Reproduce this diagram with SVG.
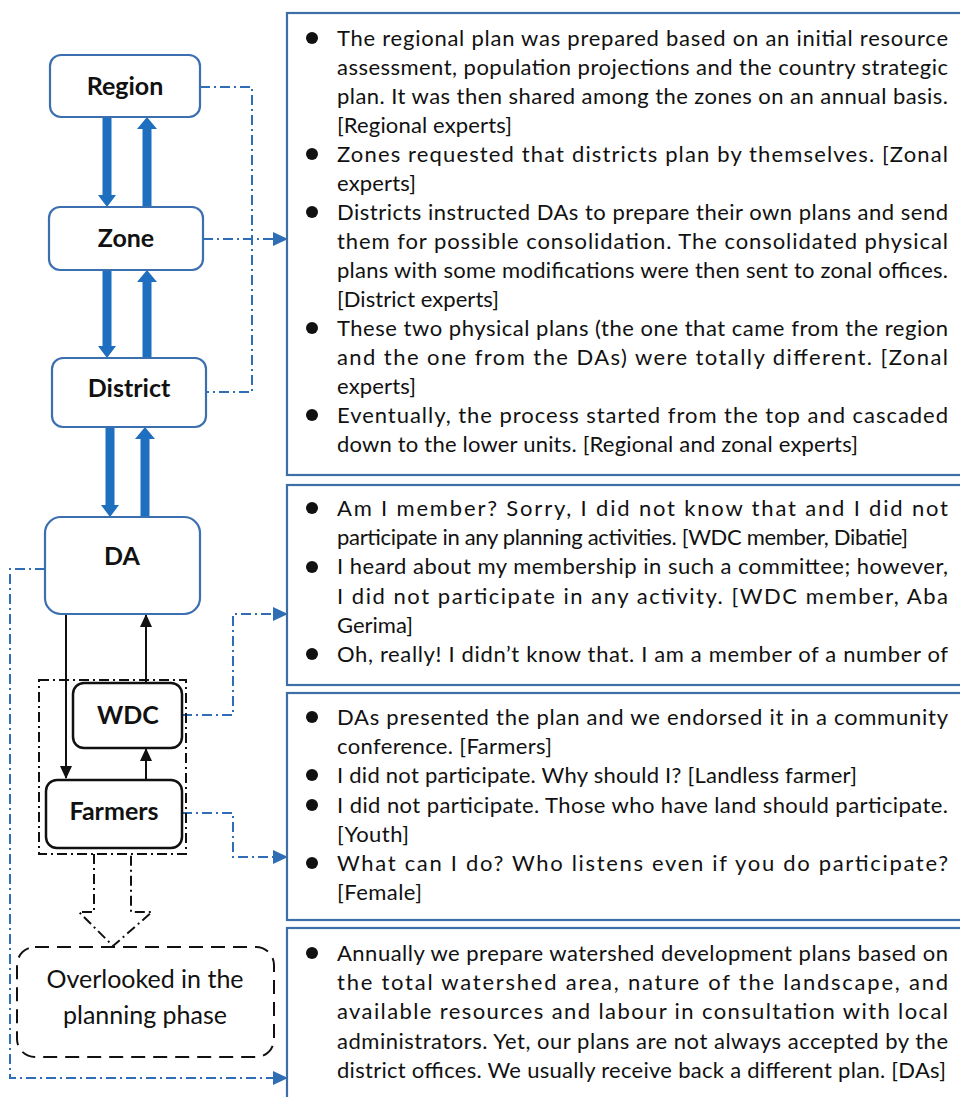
<svg xmlns="http://www.w3.org/2000/svg" width="960" height="1097" viewBox="0 0 960 1097">
<style>
.t{font-family:Lato,"Liberation Sans",sans-serif;font-size:22px;fill:#111}
.lbl{font-family:Lato,"Liberation Sans",sans-serif;font-size:25px;font-weight:bold;fill:#111;text-anchor:middle}
.ov{font-family:Lato,"Liberation Sans",sans-serif;font-size:25px;fill:#111;text-anchor:middle}
.bnode{fill:#fff;stroke:#3b6fb0;stroke-width:2.2}
.knode{fill:#fff;stroke:#111;stroke-width:2.5}
.tbox{fill:#fff;stroke:#3d6ea8;stroke-width:2.2}
.dd{fill:none;stroke:#2f6db5;stroke-width:2;stroke-dasharray:10 4 2 4}
.kd{fill:none;stroke:#111;stroke-width:2;stroke-dasharray:10 4 2 4}
.thin{fill:none;stroke:#111;stroke-width:2}
.thick{fill:#1f6fc1}
.bul{fill:#111}
</style>
<defs>
<marker id="ba" markerUnits="userSpaceOnUse" markerWidth="16" markerHeight="16" refX="14" refY="7" orient="auto"><path d="M0,0 L15,7 L0,14 Z" fill="#2f6db5"/></marker>
<marker id="ka" markerUnits="userSpaceOnUse" markerWidth="14" markerHeight="14" refX="12" refY="6" orient="auto"><path d="M0,0 L13,6 L0,12 Z" fill="#111"/></marker>
</defs>
<rect width="960" height="1097" fill="#fff"/>

<g id="connectors">
<polygon class="thick" points="102.5,117 111.5,117 111.5,195 116,195 107,207 98,195 102.5,195"/>
<polygon class="thick" points="142.5,207 151.5,207 151.5,129 157,129 147,117 137,129 142.5,129"/>
<polygon class="thick" points="102.5,270 111.5,270 111.5,346 116,346 107,358 98,346 102.5,346"/>
<polygon class="thick" points="142.5,358 151.5,358 151.5,282 157,282 147,270 137,282 142.5,282"/>
<polygon class="thick" points="105.5,427 114.5,427 114.5,505 119,505 110,517 101,505 105.5,505"/>
<polygon class="thick" points="140.5,517 149.5,517 149.5,439 155,439 145,427 135,439 140.5,439"/>
<path class="thin" d="M66,614 V778" marker-end="url(#ka)"/>
<path class="thin" d="M146,683 V615" marker-end="url(#ka)"/>
<path class="thin" d="M146,780 V749" marker-end="url(#ka)"/>
<path class="dd" d="M200,87 H252 V392 H206"/>
<path class="dd" d="M203,239 H287" marker-end="url(#ba)"/>
<path class="dd" d="M45,569 H10 V1078 H287" marker-end="url(#ba)"/>
<path class="dd" d="M182,715 H233 V614 H287" marker-end="url(#ba)"/>
<path class="dd" d="M182,813 H233 V857 H287" marker-end="url(#ba)"/>
<path class="kd" d="M94,854 V912 H79 L113,946 L152,912 H131 V854"/>
</g>

<g id="node-region"><rect class="bnode" x="50" y="55" width="150" height="62" rx="11"/><text class="lbl" x="125" y="95">Region</text></g>
<g id="node-zone"><rect class="bnode" x="49" y="207" width="154" height="63" rx="11"/><text class="lbl" x="126" y="247">Zone</text></g>
<g id="node-district"><rect class="bnode" x="52" y="358" width="154" height="69" rx="11"/><text class="lbl" x="129" y="397">District</text></g>
<g id="node-da"><rect class="bnode" x="45" y="517" width="155" height="97" rx="16"/><text class="lbl" x="122" y="565">DA</text></g>
<g id="node-group"><rect class="kd" x="39" y="680" width="147" height="174"/></g>
<g id="node-wdc"><rect class="knode" x="73" y="683" width="109" height="65" rx="11"/><text class="lbl" x="128" y="724">WDC</text></g>
<g id="node-farmers"><rect class="knode" x="46" y="780" width="136" height="68" rx="11"/><text class="lbl" x="114" y="820">Farmers</text></g>
<g id="node-overlooked"><rect x="17" y="947" width="257" height="110" rx="18" fill="#fff" stroke="#111" stroke-width="2" stroke-dasharray="14 8"/><text class="ov" x="145" y="988">Overlooked in the</text><text class="ov" x="145" y="1024">planning phase</text></g>

<g id="box-1">
<rect class="tbox" x="287" y="13" width="680" height="462"/>
<circle class="bul" cx="312" cy="38" r="6"/><circle class="bul" cx="312" cy="154" r="6"/><circle class="bul" cx="312" cy="212" r="6"/><circle class="bul" cx="312" cy="328" r="6"/><circle class="bul" cx="312" cy="415" r="6"/>
<text class="t" x="337" y="46" textLength="611" lengthAdjust="spacing">The regional plan was prepared based on an initial resource</text>
<text class="t" x="337" y="75" textLength="611" lengthAdjust="spacing">assessment, population projections and the country strategic</text>
<text class="t" x="337" y="104" textLength="611" lengthAdjust="spacing">plan. It was then shared among the zones on an annual basis.</text>
<text class="t" x="337" y="133" textLength="175" lengthAdjust="spacing">[Regional experts]</text>
<text class="t" x="337" y="162" textLength="611" lengthAdjust="spacing">Zones requested that districts plan by themselves. [Zonal</text>
<text class="t" x="337" y="191" textLength="79" lengthAdjust="spacing">experts]</text>
<text class="t" x="337" y="220" textLength="611" lengthAdjust="spacing">Districts instructed DAs to prepare their own plans and send</text>
<text class="t" x="337" y="249" textLength="611" lengthAdjust="spacing">them for possible consolidation. The consolidated physical</text>
<text class="t" x="337" y="278" textLength="611" lengthAdjust="spacing">plans with some modifications were then sent to zonal offices.</text>
<text class="t" x="337" y="307" textLength="162" lengthAdjust="spacing">[District experts]</text>
<text class="t" x="337" y="336" textLength="611" lengthAdjust="spacing">These two physical plans (the one that came from the region</text>
<text class="t" x="337" y="365" textLength="611" lengthAdjust="spacing">and the one from the DAs) were totally different. [Zonal</text>
<text class="t" x="337" y="394" textLength="79" lengthAdjust="spacing">experts]</text>
<text class="t" x="337" y="423" textLength="611" lengthAdjust="spacing">Eventually, the process started from the top and cascaded</text>
<text class="t" x="337" y="452" textLength="521" lengthAdjust="spacing">down to the lower units. [Regional and zonal experts]</text>
</g>

<g id="box-2">
<rect class="tbox" x="287" y="485" width="680" height="200"/>
<circle class="bul" cx="312" cy="508" r="6"/><circle class="bul" cx="312" cy="567" r="6"/><circle class="bul" cx="312" cy="654" r="6"/>
<text class="t" x="337" y="516" textLength="611" lengthAdjust="spacing">Am I member? Sorry, I did not know that and I did not</text>
<text class="t" x="337" y="545" textLength="571" lengthAdjust="spacing">participate in any planning activities. [WDC member, Dibatie]</text>
<text class="t" x="337" y="574" textLength="611" lengthAdjust="spacing">I heard about my membership in such a committee; however,</text>
<text class="t" x="337" y="604" textLength="611" lengthAdjust="spacing">I did not participate in any activity. [WDC member, Aba</text>
<text class="t" x="337" y="633" textLength="76" lengthAdjust="spacing">Gerima]</text>
<text class="t" x="337" y="662" textLength="611" lengthAdjust="spacing">Oh, really! I didn’t know that. I am a member of a number of</text>
</g>

<g id="box-3">
<rect class="tbox" x="287" y="693" width="680" height="227"/>
<circle class="bul" cx="312" cy="717" r="6"/><circle class="bul" cx="312" cy="775" r="6"/><circle class="bul" cx="312" cy="805" r="6"/><circle class="bul" cx="312" cy="863" r="6"/>
<text class="t" x="337" y="725" textLength="611" lengthAdjust="spacing">DAs presented the plan and we endorsed it in a community</text>
<text class="t" x="337" y="754" textLength="215" lengthAdjust="spacing">conference. [Farmers]</text>
<text class="t" x="337" y="783" textLength="520" lengthAdjust="spacing">I did not participate. Why should I? [Landless farmer]</text>
<text class="t" x="337" y="813" textLength="611" lengthAdjust="spacing">I did not participate. Those who have land should participate.</text>
<text class="t" x="337" y="842" textLength="72" lengthAdjust="spacing">[Youth]</text>
<text class="t" x="337" y="871" textLength="611" lengthAdjust="spacing">What can I do? Who listens even if you do participate?</text>
<text class="t" x="337" y="900" textLength="85" lengthAdjust="spacing">[Female]</text>
</g>

<g id="box-4">
<rect class="tbox" x="287" y="928" width="680" height="180"/>
<circle class="bul" cx="312" cy="953" r="6"/>
<text class="t" x="337" y="961" textLength="611" lengthAdjust="spacing">Annually we prepare watershed development plans based on</text>
<text class="t" x="337" y="990" textLength="611" lengthAdjust="spacing">the total watershed area, nature of the landscape, and</text>
<text class="t" x="337" y="1019" textLength="611" lengthAdjust="spacing">available resources and labour in consultation with local</text>
<text class="t" x="337" y="1049" textLength="611" lengthAdjust="spacing">administrators. Yet, our plans are not always accepted by the</text>
<text class="t" x="337" y="1078" textLength="609" lengthAdjust="spacing">district offices. We usually receive back a different plan. [DAs]</text>
</g>
</svg>
